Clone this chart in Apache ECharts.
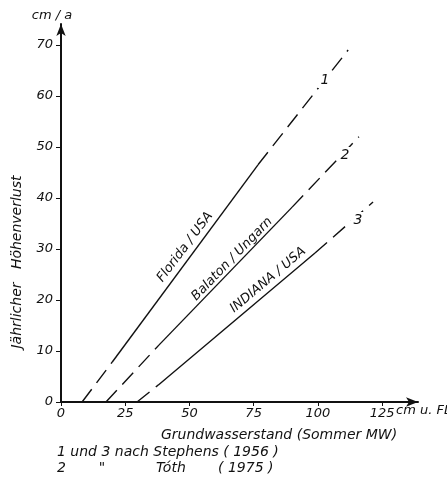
<!DOCTYPE html>
<html lang="de">
<head>
    <meta charset="UTF-8">
    <title>Jährlicher Höhenverlust</title>
    <style>
        html, body { margin: 0; padding: 0; background: #fff; }
        #chart { width: 447px; height: 486px; }
    </style>
</head>
<body>
<div id="chart"></div>
<script src="https://cdn.jsdelivr.net/npm/echarts@6/dist/echarts.min.js"></script>
<script>
    // tick labels
    var xTicks = [0, 25, 50, 75, 100, 125];
    var yTicks = [0, 10, 20, 30, 40, 50, 60, 70];

    // each line: [start on axis, begin of solid part, end of solid part, end of dashed part]
    var florida = [[8.2, 0], [19.9, 7.8], [76.7, 46.5], [111.8, 69.0]];
    var balaton = [[17.5, 0], [38.2, 11.2], [90.0, 38.2], [116.0, 52.0]];
    var indiana = [[29.6, 0], [37.8, 3.3], [98.9, 29.2], [121.5, 39.2]];

    var FONT = 'DejaVu Sans';
    var dash = [16, 8];

    // build dashed - solid - dashed pieces of one line
    function pieces(name, pts) {
        var base = { type: 'line', showSymbol: false, silent: true, name: name };
        return [
            Object.assign({}, base, { data: [pts[0], pts[1]], lineStyle: { color: '#111', width: 1.4, type: dash } }),
            Object.assign({}, base, { data: [pts[1], pts[2]], lineStyle: { color: '#111', width: 1.4, type: 'solid' } }),
            Object.assign({}, base, { data: [pts[2], pts[3]], lineStyle: { color: '#111', width: 1.4, type: dash } })
        ];
    }

    function txt(x, y, s, opt) {
        opt = opt || {};
        var style = {
            text: s, fill: '#111', font: 'italic ' + (opt.size || 14) + 'px "' + FONT + '"',
            align: opt.align || 'left', verticalAlign: 'middle'
        };
        if (opt.bg) {
            style.backgroundColor = '#fff';
            style.padding = [1, 3];
        }
        return { type: 'text', x: x, y: y, rotation: opt.rot || 0, silent: true, z: 100, style: style };
    }

    var deg = Math.PI / 180;

    var chart = echarts.init(document.getElementById('chart'));
    var option = {
        animation: false,
        grid: { left: 61, right: 29, top: 24, bottom: 84 },
        xAxis: {
            type: 'value', min: 0, max: 139,
            splitLine: { show: false },
            axisLine: { lineStyle: { color: '#111', width: 2 }, symbol: ['none', 'arrow'], symbolSize: [7, 12] },
            axisTick: { show: true, length: 4, customValues: xTicks, lineStyle: { color: '#111' } },
            axisLabel: {
                customValues: xTicks, margin: 5, color: '#111',
                fontFamily: FONT, fontStyle: 'italic', fontSize: 13
            }
        },
        yAxis: {
            type: 'value', min: 0, max: 74.1,
            splitLine: { show: false },
            axisLine: { lineStyle: { color: '#111', width: 2 }, symbol: ['none', 'arrow'], symbolSize: [7, 12] },
            axisTick: { show: true, length: 5, customValues: yTicks, lineStyle: { color: '#111' } },
            axisLabel: {
                customValues: yTicks, margin: 8, color: '#111',
                fontFamily: FONT, fontStyle: 'italic', fontSize: 13
            }
        },
        series: [].concat(
            pieces('Florida / USA', florida),
            pieces('Balaton / Ungarn', balaton),
            pieces('INDIANA / USA', indiana)
        ),
        graphic: [
            txt(52, 16, 'cm / a', { align: 'center', size: 13 }),
            txt(17, 262, 'Jährlicher   Höhenverlust', { align: 'center', rot: 90 * deg }),
            txt(396, 411, 'cm u. FL', { size: 13 }),
            txt(279, 435, 'Grundwasserstand (Sommer MW)', { align: 'center' }),
            txt(185, 247, 'Florida / USA', { align: 'center', rot: 53 * deg, size: 13 }),
            txt(232, 259, 'Balaton / Ungarn', { align: 'center', rot: 46 * deg, size: 13 }),
            txt(268, 280, 'INDIANA / USA', { align: 'center', rot: 40 * deg, size: 13 }),
            txt(325, 80, '1', { align: 'center', bg: true }),
            txt(345, 155, '2', { align: 'center', bg: true }),
            txt(358, 220, '3', { align: 'center', bg: true }),
            txt(57, 452, '1 und 3 nach Stephens ( 1956 )'),
            txt(57, 468, '2'),
            txt(102, 468, '"', { align: 'center' }),
            txt(156, 468, 'Tóth'),
            txt(218, 468, '( 1975 )')
        ]
    };
    chart.setOption(option);
</script>
</body>
</html>
